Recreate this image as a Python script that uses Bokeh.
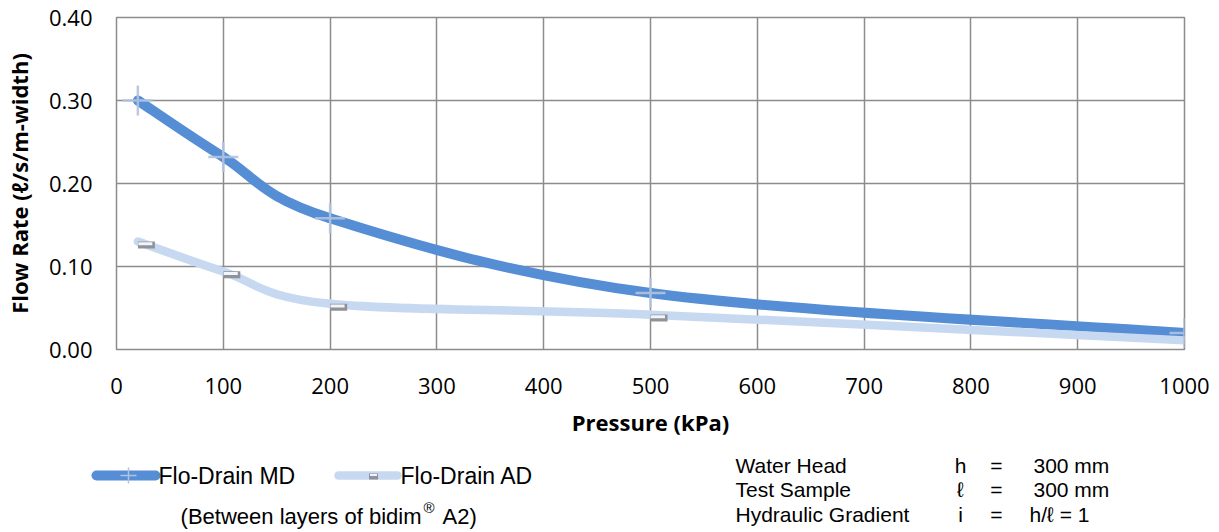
from bokeh.plotting import figure
from bokeh.models import Range1d, FixedTicker, NumeralTickFormatter, ColumnDataSource
from bokeh.layouts import column
from bokeh.embed import file_html
from bokeh.resources import INLINE
from bokeh.core.properties import value
from bokeh.transform import dodge

# ---------------- data ----------------
pressure = [20, 100, 200, 500, 1000]
md_flow = [0.300, 0.232, 0.158, 0.068, 0.020]
ad_flow = [0.130, 0.094, 0.055, 0.042, 0.011]
series_names = ["Flo-Drain MD", "Flo-Drain AD"]
x_ticks = [0, 100, 200, 300, 400, 500, 600, 700, 800, 900, 1000]
y_ticks = [0.0, 0.1, 0.2, 0.3, 0.4]
x_title = "Pressure (kPa)"
y_title = "Flow Rate (\u2113/s/m-width)"
note_labels = ["Water Head", "Test Sample", "Hydraulic Gradient"]
note_symbols = ["h", "\u2113", "i"]
note_values = ["300 mm", "300 mm", "h/\u2113 = 1"]

MD_COLOR = "#558ED5"
AD_COLOR = "#C6D9F1"
GRID = "#8c8c8c"
FONT = "Open Sans"
NOTE_FONT = "Liberation Sans"

W = 1219
BL, BR = 115, 35
H_MAIN, H_STRIP = 445, 87


def smooth_segments(xs, ys):
    """Excel-like smoothed line: cubic Bezier segments through the data points."""
    n = len(xs)
    d = dict(x0=[], y0=[], x1=[], y1=[], cx0=[], cy0=[], cx1=[], cy1=[])
    for i in range(n - 1):
        i0 = max(i - 1, 0)
        i3 = min(i + 2, n - 1)
        d["x0"].append(xs[i]); d["y0"].append(ys[i])
        d["x1"].append(xs[i + 1]); d["y1"].append(ys[i + 1])
        d["cx0"].append(xs[i] + (xs[i + 1] - xs[i0]) / 6.0)
        d["cy0"].append(ys[i] + (ys[i + 1] - ys[i0]) / 6.0)
        d["cx1"].append(xs[i + 1] - (xs[i3] - xs[i]) / 6.0)
        d["cy1"].append(ys[i + 1] - (ys[i3] - ys[i]) / 6.0)
    return ColumnDataSource(d)


# ---------------- main chart ----------------
p = figure(width=W, height=H_MAIN, x_range=Range1d(0, 1000), y_range=Range1d(0, 0.40),
           output_backend="svg", toolbar_location=None,
           min_border_left=BL, min_border_right=BR, min_border_top=17, min_border_bottom=96)
p.frame_align = False
p.background_fill_color = "white"
p.border_fill_color = "white"
p.outline_line_color = GRID
p.outline_line_width = 1.5

p.xaxis.ticker = FixedTicker(ticks=x_ticks)
p.yaxis.ticker = FixedTicker(ticks=y_ticks)
p.yaxis.formatter = NumeralTickFormatter(format="0.00")
for ax in (p.xaxis, p.yaxis):
    ax.axis_line_color = None
    ax.major_tick_line_color = None
    ax.minor_tick_line_color = None
    ax.major_tick_out = 0
    ax.major_tick_in = 0
    ax.minor_tick_out = 0
    ax.major_label_text_font = FONT
    ax.major_label_text_font_size = "22px"
    ax.major_label_text_color = "#000000"
    ax.axis_label_text_font = FONT
    ax.axis_label_text_font_size = "22px"
    ax.axis_label_text_font_style = "bold"
    ax.axis_label_text_color = "#000000"
p.xaxis.axis_label = x_title
p.yaxis.axis_label = y_title
p.xaxis.major_label_standoff = 28
p.xaxis.axis_label_standoff = 10
p.yaxis.major_label_standoff = 24
p.yaxis.axis_label_standoff = 12

p.xgrid.grid_line_color = GRID
p.ygrid.grid_line_color = GRID
p.xgrid.grid_line_width = 1.5
p.ygrid.grid_line_width = 1.5

md_src = ColumnDataSource(dict(x=pressure, y=md_flow))
ad_src = ColumnDataSource(dict(x=pressure, y=ad_flow))

p.bezier(x0="x0", y0="y0", x1="x1", y1="y1", cx0="cx0", cy0="cy0", cx1="cx1", cy1="cy1",
         source=smooth_segments(pressure, md_flow), line_color=MD_COLOR, line_width=10,
         line_cap="round")
p.bezier(x0="x0", y0="y0", x1="x1", y1="y1", cx0="cx0", cy0="cy0", cx1="cx1", cy1="cy1",
         source=smooth_segments(pressure, ad_flow), line_color=AD_COLOR, line_width=8.5,
         line_cap="round")

# MD cross markers
p.scatter(x="x", y="y", source=md_src, marker="cross", size=30, line_color="#b3c3de",
          line_width=2.5, line_alpha=0.9)
# AD dash markers (grey bar with highlight)
p.rect(x=dodge("x", 8, range=p.x_range), y=dodge("y", -0.004, range=p.y_range), source=ad_src,
       width=17, height=7, width_units="screen", height_units="screen",
       fill_color="#8e939b", line_color=None)
p.rect(x=dodge("x", 7, range=p.x_range), y=dodge("y", -0.0025, range=p.y_range), source=ad_src,
       width=14, height=3, width_units="screen", height_units="screen",
       fill_color="#f2f4f7", line_color=None)

# ---------------- legend / notes strip (page coordinates) ----------------
q = figure(width=W, height=H_STRIP, x_range=Range1d(0, W),
           y_range=Range1d(H_MAIN + H_STRIP, H_MAIN),
           output_backend="svg", toolbar_location=None, x_axis_type=None, y_axis_type=None,
           min_border_left=0, min_border_right=0, min_border_top=0, min_border_bottom=0)
q.frame_align = False
q.outline_line_color = None
q.grid.visible = False
q.background_fill_color = "white"
q.border_fill_color = "white"

# legend entries
q.segment(x0=[96], y0=[475], x1=[155], y1=[475], line_color=MD_COLOR, line_width=10, line_cap="round")
q.scatter(x=[128], y=[475], marker="cross", size=16, line_color="#b3c3de", line_width=1.5)
q.segment(x0=[338], y0=[475], x1=[397], y1=[475], line_color=AD_COLOR, line_width=8.5, line_cap="round")
q.rect(x=[373], y=[476], width=9, height=6, fill_color="#8e939b", line_color=None)
q.rect(x=[373], y=[474.5], width=7, height=2, fill_color="#f2f4f7", line_color=None)

q.text(x=[158, 400], y=[475, 475], text=series_names, text_font=value(NOTE_FONT),
       text_font_size="23px", text_baseline="middle", text_align="left", text_color="#000000")

q.text(x=[421], y=[516], text=["(Between layers of bidim"], text_font=value(NOTE_FONT),
       text_font_size="22px", text_baseline="middle", text_align="right", text_color="#000000")
q.text(x=[423], y=[507], text=["\u00ae"], text_font=value(NOTE_FONT),
       text_font_size="15px", text_baseline="middle", text_align="left", text_color="#000000")
q.text(x=[442], y=[516], text=["A2)"], text_font=value(NOTE_FONT),
       text_font_size="22px", text_baseline="middle", text_align="left", text_color="#000000")

rows_y = [465, 489, 514]
q.text(x=[735] * 3, y=rows_y, text=note_labels, text_font=value(NOTE_FONT),
       text_font_size="21px", text_baseline="middle", text_align="left", text_color="#000000")
q.text(x=[960] * 3, y=rows_y, text=note_symbols, text_font=value(NOTE_FONT),
       text_font_size="21px", text_baseline="middle", text_align="center", text_color="#000000")
q.text(x=[996] * 3, y=rows_y, text=["="] * 3, text_font=value(NOTE_FONT),
       text_font_size="21px", text_baseline="middle", text_align="center", text_color="#000000")
q.text(x=[1033, 1033, 1029], y=rows_y, text=note_values, text_font=value(NOTE_FONT),
       text_font_size="21px", text_baseline="middle", text_align="left", text_color="#000000")

layout = column(p, q, spacing=0)
open("out.html", "w").write(file_html(layout, INLINE))
